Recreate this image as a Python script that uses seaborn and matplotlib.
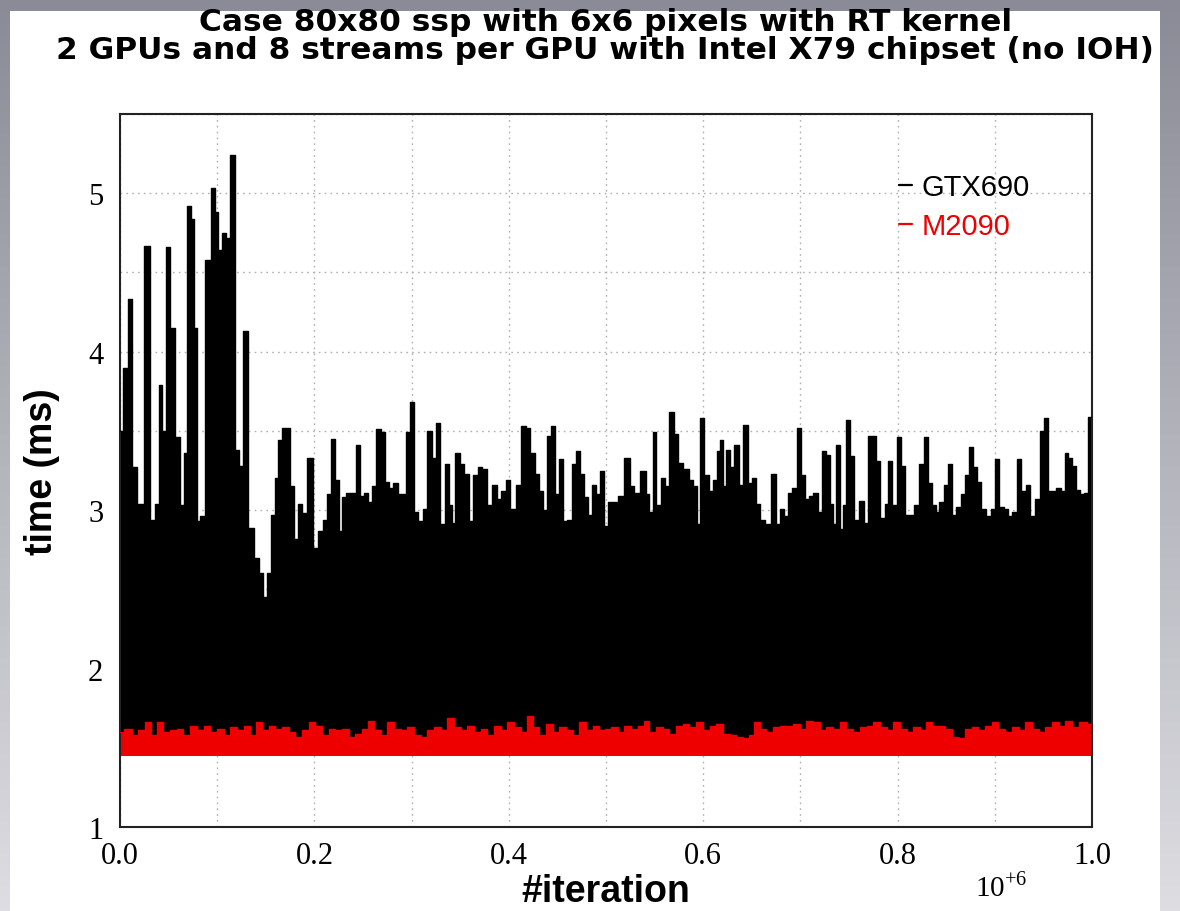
import numpy as np
import pandas as pd
import matplotlib
matplotlib.use("Agg")
import matplotlib.pyplot as plt
import seaborn as sns
from matplotlib.patches import Rectangle
from matplotlib.lines import Line2D
from matplotlib.ticker import MultipleLocator, FuncFormatter
from matplotlib.colors import LinearSegmentedColormap

# ---------------- data (iteration in units of 10^6, time in ms) ----------------
gtx_iter = [0.0, 0.0065, 0.010, 0.015, 0.021, 0.028, 0.033, 0.0385, 0.041, 0.045,
            0.0495, 0.0536, 0.059, 0.064, 0.067, 0.071, 0.075, 0.0775, 0.080, 0.0845,
            0.0907, 0.096, 0.099, 0.1027, 0.107, 0.111, 0.115, 0.1206, 0.125, 0.129,
            0.134, 0.141, 0.145, 0.149, 0.153, 0.157, 0.161,
            0.165, 0.1684, 0.1719, 0.177, 0.1805, 0.1856, 0.1897, 0.1952, 0.2011, 0.2062,
            0.2114, 0.2148, 0.2193, 0.2227, 0.2269, 0.2303, 0.2354, 0.2399, 0.245, 0.2492,
            0.2537, 0.2571, 0.2612, 0.2664, 0.2705, 0.2743, 0.2784, 0.2836, 0.288, 0.2921,
            0.2973, 0.3001, 0.3042, 0.3093, 0.3134, 0.3186, 0.3231, 0.3272, 0.3317, 0.3361,
            0.3403, 0.343, 0.3471, 0.3523, 0.3564, 0.3609, 0.3653, 0.3705, 0.3753, 0.3798,
            0.3849, 0.3901, 0.3946, 0.3994, 0.4038, 0.41, 0.4159, 0.42, 0.4244, 0.4289,
            0.433, 0.4372, 0.4416, 0.4461,
            0.4491, 0.4536, 0.457, 0.4622, 0.4673, 0.4714, 0.4759, 0.4793, 0.4835, 0.4872,
            0.4914, 0.4965, 0.5, 0.5051, 0.5103, 0.5154, 0.5216, 0.5268, 0.5316, 0.5388,
            0.5429, 0.5463, 0.5498, 0.5539, 0.5584, 0.5625, 0.5677, 0.5721, 0.5762, 0.5824,
            0.5876, 0.5917, 0.5955, 0.5989, 0.6037, 0.6082, 0.6123, 0.6151, 0.6185, 0.6219,
            0.6254, 0.6295, 0.6347, 0.6391, 0.6436, 0.6477, 0.6519, 0.6563, 0.6615, 0.6666,
            0.6728, 0.6769, 0.681, 0.6848, 0.6889, 0.6941, 0.6993, 0.7027, 0.7068, 0.7113,
            0.7154, 0.7199,
            0.7251, 0.7285, 0.732, 0.7354, 0.7388, 0.7423, 0.7457, 0.7491, 0.7536, 0.7577,
            0.7629, 0.7674, 0.7715, 0.7759, 0.7801, 0.7845, 0.7887, 0.7921, 0.7962, 0.8017,
            0.8058, 0.81, 0.8144, 0.8196, 0.8247, 0.8289, 0.8333, 0.8375, 0.8409, 0.8447,
            0.8498, 0.854, 0.8574, 0.8625, 0.867, 0.8711, 0.8753, 0.8797, 0.8839, 0.8883,
            0.8935, 0.898, 0.9021, 0.9072, 0.9117, 0.9158, 0.9203, 0.9251, 0.9296, 0.9337,
            0.9381, 0.944, 0.9491, 0.9529, 0.9571, 0.9612, 0.9656, 0.9701, 0.9735, 0.9777,
            0.9811, 0.9852, 0.9897, 0.9942, 0.9976, 1.0]
gtx_time = [3.50, 3.90, 4.33, 3.27, 3.04, 4.67, 2.94, 3.04, 3.79, 3.50,
            4.66, 4.15, 3.46, 3.03, 3.36, 4.92, 4.84, 4.15, 2.93, 2.96,
            4.58, 5.03, 4.88, 4.64, 4.75, 4.72, 5.24, 3.38, 3.28, 4.13,
            2.89, 2.70, 2.60, 2.45, 2.60, 2.97, 3.20,
            3.44, 3.52, 3.52, 3.15, 2.82, 3.04, 2.98, 3.33, 2.76, 2.87,
            2.94, 3.10, 3.45, 3.19, 2.87, 3.08, 3.11, 3.11, 3.41, 3.09,
            3.11, 3.05, 3.15, 3.51, 3.49, 3.18, 3.14, 3.17, 3.10, 3.10,
            3.49, 3.68, 2.99, 2.93, 3.01, 3.50, 3.33, 3.55, 2.91, 3.29,
            3.03, 2.92, 3.36, 3.29, 3.23, 2.93, 3.22, 3.27, 3.26, 3.03,
            3.16, 3.07, 3.12, 3.19, 3.01, 3.16, 3.53, 3.52, 3.36, 3.23,
            3.12, 3.00, 3.47, 3.53,
            3.10, 3.32, 2.93, 2.94, 3.29, 3.37, 3.23, 3.08, 2.97, 3.16,
            3.10, 3.25, 2.90, 3.05, 3.05, 3.09, 3.33, 3.15, 3.11, 3.25,
            3.10, 2.99, 3.49, 3.03, 3.20, 3.15, 3.62, 3.48, 3.30, 3.26,
            3.19, 3.15, 2.91, 3.58, 3.22, 3.12, 3.19, 3.37, 3.44, 3.15,
            3.38, 3.27, 3.41, 3.16, 3.54, 3.17, 3.20, 3.04, 2.94, 2.91,
            3.23, 2.91, 3.01, 2.96, 3.11, 3.14, 3.52, 3.22, 3.07, 3.09,
            3.11, 2.99,
            3.37, 3.35, 3.04, 2.91, 3.41, 2.88, 3.03, 3.57, 3.34, 2.94,
            3.06, 2.92, 3.47, 3.47, 3.31, 2.95, 3.04, 3.31, 3.03, 3.46,
            3.28, 2.97, 2.97, 3.03, 3.29, 3.46, 3.17, 3.03, 2.99, 3.05,
            3.16, 3.29, 2.97, 3.02, 3.10, 3.22, 3.40, 3.27, 3.18, 3.01,
            2.96, 3.01, 3.32, 3.02, 3.01, 2.96, 2.99, 3.32, 3.12, 3.16,
            2.96, 3.07, 3.50, 3.58, 3.12, 3.12, 3.14, 3.12, 3.36, 3.33,
            3.28, 3.13, 3.10, 3.11, 3.59, 3.59]

m2090_iter = [0.0, 0.0086, 0.0155, 0.0223, 0.0292, 0.0344, 0.0412, 0.0481, 0.055, 0.0619,
              0.0687, 0.0756, 0.0825, 0.0894, 0.0962, 0.1031, 0.11, 0.1168, 0.1237, 0.1306,
              0.1375, 0.1426, 0.1495, 0.1563, 0.1632, 0.1701, 0.177, 0.1838, 0.1907, 0.1976,
              0.2045, 0.2113, 0.2182, 0.2251, 0.232, 0.2388, 0.2457, 0.2526, 0.2577, 0.2646,
              0.2715, 0.2783, 0.2852, 0.2921, 0.299, 0.3058, 0.3127, 0.3196, 0.3265, 0.3333,
              0.3402, 0.3471, 0.354, 0.3608, 0.3677, 0.3746, 0.3814, 0.3883, 0.3952, 0.4021,
              0.4089, 0.4158, 0.421, 0.4278, 0.4347, 0.4416, 0.4484, 0.4553, 0.4622, 0.4691,
              0.4759, 0.4828, 0.4897, 0.4966,
              0.5017, 0.5086, 0.5155, 0.5223, 0.5292, 0.5361, 0.5412, 0.5481, 0.555, 0.5618,
              0.5687, 0.5756, 0.5825, 0.5893, 0.5962, 0.6031, 0.6099, 0.6168, 0.6237, 0.6306,
              0.6374, 0.6443, 0.6495, 0.6546, 0.6615, 0.6684, 0.6752, 0.6821, 0.689, 0.6959,
              0.7027, 0.7096, 0.7165, 0.7233, 0.7302, 0.7371, 0.744, 0.7508, 0.7577, 0.7646,
              0.7715, 0.7783, 0.7852, 0.7921, 0.799, 0.8058, 0.8127, 0.8196, 0.8264, 0.8316,
              0.8385, 0.8453, 0.8522, 0.8591, 0.866, 0.8728, 0.8797, 0.8866, 0.8935, 0.9003,
              0.9072, 0.9141, 0.921, 0.9278, 0.9347, 0.9416, 0.9485, 0.9553, 0.9622, 0.9691,
              0.976, 0.9828, 0.9897, 1.0]
m2090_time = [1.60, 1.62, 1.58, 1.61, 1.66, 1.58, 1.66, 1.60, 1.61, 1.62,
              1.58, 1.64, 1.61, 1.64, 1.60, 1.62, 1.58, 1.63, 1.61, 1.64,
              1.58, 1.66, 1.61, 1.64, 1.62, 1.63, 1.60, 1.57, 1.61, 1.66,
              1.64, 1.58, 1.62, 1.61, 1.62, 1.57, 1.59, 1.62, 1.67, 1.61,
              1.58, 1.66, 1.62, 1.61, 1.63, 1.58, 1.57, 1.61, 1.63, 1.61,
              1.69, 1.63, 1.61, 1.64, 1.60, 1.62, 1.58, 1.64, 1.61, 1.66,
              1.63, 1.60, 1.70, 1.63, 1.58, 1.65, 1.60, 1.63, 1.61, 1.58,
              1.66, 1.61, 1.64, 1.61,
              1.62, 1.63, 1.60, 1.64, 1.62, 1.64, 1.67, 1.60, 1.63, 1.62,
              1.59, 1.64, 1.65, 1.63, 1.66, 1.61, 1.64, 1.65, 1.59, 1.58,
              1.57, 1.56, 1.58, 1.66, 1.62, 1.60, 1.63, 1.64, 1.64, 1.65,
              1.62, 1.67, 1.66, 1.61, 1.63, 1.62, 1.66, 1.62, 1.60, 1.63,
              1.64, 1.66, 1.63, 1.61, 1.66, 1.62, 1.60, 1.63, 1.61, 1.66,
              1.64, 1.64, 1.62, 1.57, 1.56, 1.62, 1.63, 1.61, 1.64, 1.66,
              1.62, 1.60, 1.63, 1.61, 1.66, 1.62, 1.60, 1.63, 1.66, 1.64,
              1.67, 1.63, 1.66, 1.65]

time_floor = 1.45   # lowest measured time of both series (ms)
series_names = ["GTX690", "M2090"]
series_colors = {"GTX690": "#000000", "M2090": "#ee0000"}

title_lines = ["Case 80x80 ssp with 6x6 pixels with RT kernel",
               "2 GPUs and 8 streams per GPU with Intel X79 chipset (no IOH)"]
x_label = "#iteration"
y_label = "time (ms)"

df = pd.concat([
    pd.DataFrame({"iteration": gtx_iter, "time": gtx_time, "gpu": "GTX690"}),
    pd.DataFrame({"iteration": m2090_iter, "time": m2090_time, "gpu": "M2090"}),
], ignore_index=True)

# ---------------- figure ----------------
sns.set_theme(style="white")
plt.rcParams["font.family"] = ["Liberation Sans", "DejaVu Sans"]
plt.rcParams["mathtext.fontset"] = "custom"
plt.rcParams["mathtext.rm"] = "Liberation Serif"
for k in ["text.color", "axes.labelcolor", "xtick.color", "ytick.color"]:
    plt.rcParams[k] = "black"

W, H = 1180, 912
fig = plt.figure(figsize=(W / 100, H / 100), dpi=100)

# screenshot-like grey frame with gradient
bg = fig.add_axes([0, 0, 1, 1], zorder=-10)
grad = np.linspace(0, 1, 256).reshape(-1, 1)
cm = LinearSegmentedColormap.from_list("bg", ["#8a8b96", "#dddde2"])
bg.imshow(grad, aspect="auto", cmap=cm, extent=[0, 1, 0, 1], origin="upper")
bg.set_axis_off()
fig.patches.append(Rectangle((10 / W, 0), 1150 / W, 900 / H, transform=fig.transFigure,
                             facecolor="white", edgecolor="none", zorder=-5))

ax = fig.add_axes([120 / W, 84 / H, 972 / W, 713 / H], zorder=1)
ax.set_facecolor("white")

for name in series_names:
    sub = df[df["gpu"] == name]
    ax.fill_between(sub["iteration"], time_floor, sub["time"], step="mid",
                    color=series_colors[name], linewidth=0, zorder=2)

sns.lineplot(data=df, x="iteration", y="time", hue="gpu", palette=series_colors,
             estimator=None, drawstyle="steps-mid", linewidth=1.0, ax=ax,
             legend=False, zorder=3)

ax.set_xlim(0, 1.0)
ax.set_ylim(1, 5.5)

ax.xaxis.set_major_locator(MultipleLocator(0.1))
ax.xaxis.set_minor_locator(MultipleLocator(0.05))
ax.yaxis.set_major_locator(MultipleLocator(0.5))
ax.yaxis.set_minor_locator(MultipleLocator(0.1))
ax.xaxis.set_major_formatter(FuncFormatter(
    lambda v, p: f"{v:.1f}" if round(v * 10) % 2 == 0 else ""))
ax.yaxis.set_major_formatter(FuncFormatter(
    lambda v, p: f"{int(round(v))}" if abs(v - round(v)) < 1e-6 else ""))

ax.tick_params(which="both", direction="in", top=False, right=False, color="#222222")
ax.tick_params(which="major", length=14, width=1.2)
ax.tick_params(which="minor", length=7, width=1.0)
for lab in ax.get_xticklabels() + ax.get_yticklabels():
    lab.set_fontfamily("Liberation Serif")
    lab.set_fontsize(22)
ax.tick_params(axis="x", pad=10)
ax.tick_params(axis="y", pad=12)

ax.grid(True, which="major", color="#b0b0b0", linestyle=(0, (1.2, 3)), linewidth=1.0)
ax.set_axisbelow(True)
for s in ax.spines.values():
    s.set_color("#222222")
    s.set_linewidth(1.5)

ax.set_xlabel(x_label, fontsize=27, fontweight="bold", labelpad=2)
ax.set_ylabel(y_label, fontsize=27, fontweight="bold", labelpad=20)

ax.text(0.88, -0.062, r"10$^{+6}$", transform=ax.transAxes, fontsize=21,
        fontfamily="Liberation Serif", ha="left", va="top", color="black")

handles = [Line2D([], [], color=series_colors[n], lw=1.6) for n in series_names]
ax.legend(handles, series_names, loc="upper left", bbox_to_anchor=(0.801, 0.917),
          frameon=False, handlelength=0.45, handletextpad=0.35, labelspacing=0.38,
          borderaxespad=0, borderpad=0, fontsize=21,
          labelcolor=[series_colors[n] for n in series_names])

fig.text(0.513, 1 - 31 / H, title_lines[0], ha="center", va="baseline",
         fontsize=22.5, fontweight="bold", family=["DejaVu Sans"])
fig.text(0.513, 1 - 59 / H, title_lines[1], ha="center", va="baseline",
         fontsize=22.5, fontweight="bold", family=["DejaVu Sans"])

fig.savefig("out.png", dpi=100)
